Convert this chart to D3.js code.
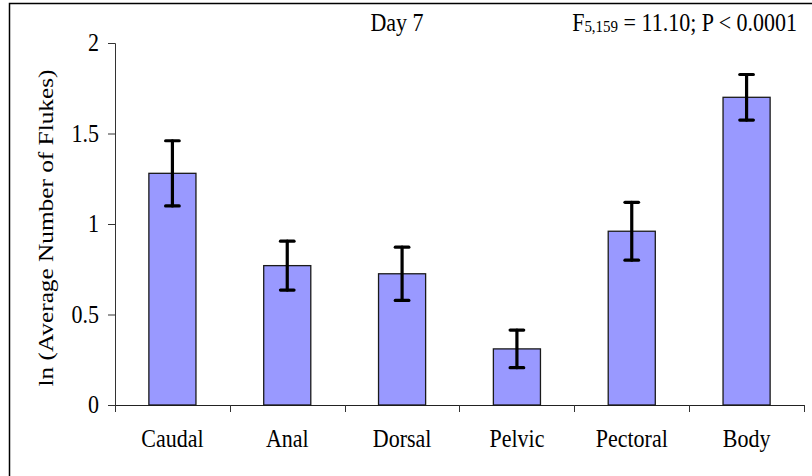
<!DOCTYPE html>
<html>
<head>
<meta charset="utf-8">
<script src="https://cdn.jsdelivr.net/npm/d3@7"></script>
<style>
  html, body { margin: 0; padding: 0; background: #fff; }
  svg { display: block; font-family: "Liberation Serif", "Times New Roman", serif; }
</style>
</head>
<body>
<svg id="chart" width="812" height="476"></svg>
<script>
// Mean ln(number of flukes) per body region on day 7, with error bar half-widths
const categories = ["Caudal", "Anal", "Dorsal", "Pelvic", "Pectoral", "Body"];
const means = [1.28, 0.77, 0.725, 0.31, 0.96, 1.70];
const errors = [0.18, 0.135, 0.147, 0.104, 0.16, 0.126];
const yTicks = [0, 0.5, 1, 1.5, 2];

const svg = d3.select("#chart");
const plotLeft = 115, plotRight = 804, plotTop = 43, plotBottom = 405;
const stretch = 1.15;   // glyphs are drawn slightly taller than wide

// outer frame
svg.append("rect")
  .attr("x", 9.5).attr("y", 3.5)
  .attr("width", 812).attr("height", 480)
  .attr("fill", "none").attr("stroke", "#000").attr("stroke-width", 1.5);

const x = d3.scaleBand().domain(categories).range([plotLeft, plotRight])
  .paddingInner(0.59).paddingOuter(0.295);
const y = d3.scaleLinear().domain([0, 2]).range([plotBottom, plotTop]);

// y axis
const yAxis = svg.append("g")
  .attr("transform", `translate(${plotLeft},0)`)
  .call(d3.axisLeft(y).tickValues(yTicks).tickSize(7).tickPadding(9).tickFormat(d3.format("~g")));
yAxis.selectAll("text")
  .attr("font-size", 22).attr("font-family", "Liberation Serif").attr("fill", "#000")
  .attr("dy", "0.3em")
  .attr("transform", `scale(1,${stretch})`);
yAxis.selectAll("line, path").attr("stroke", "#333");

// x axis: labels centred on bars, ticks at category boundaries
const step = x.step();
const xAxis = svg.append("g")
  .attr("transform", `translate(0,${plotBottom})`)
  .call(d3.axisBottom(x).tickSize(0).tickPadding(0));
xAxis.select("path").remove();
xAxis.selectAll("text")
  .attr("y", 42 / stretch).attr("dy", 0)
  .attr("transform", `scale(1,${stretch})`)
  .attr("font-size", 22).attr("font-family", "Liberation Serif").attr("fill", "#000");
const edges = categories.map(c => x(c) + x.bandwidth() / 2 - step / 2)
  .concat([x(categories[categories.length - 1]) + x.bandwidth() / 2 + step / 2]);
svg.append("line")
  .attr("x1", plotLeft).attr("x2", plotRight)
  .attr("y1", plotBottom + 0.5).attr("y2", plotBottom + 0.5)
  .attr("stroke", "#222");
svg.append("g").selectAll("line").data(edges).join("line")
  .attr("x1", d => Math.round(d) + 0.5).attr("x2", d => Math.round(d) + 0.5)
  .attr("y1", plotBottom).attr("y2", plotBottom + 7)
  .attr("stroke", "#333");

// bars
const rows = categories.map((c, i) => ({ c, m: means[i], e: errors[i] }));
svg.append("g").selectAll("rect").data(rows).join("rect")
  .attr("x", d => x(d.c))
  .attr("y", d => y(d.m))
  .attr("width", x.bandwidth())
  .attr("height", d => y(0) - y(d.m))
  .attr("fill", "#9999FF")
  .attr("stroke", "#1a1a1a")
  .attr("stroke-width", 1.3);

// error bars
const capHalf = 6.8;
const eb = svg.append("g").attr("stroke", "#000").attr("stroke-width", 3.2).attr("stroke-linecap", "round");
rows.forEach(d => {
  const cx = x(d.c) + x.bandwidth() / 2;
  eb.append("line").attr("x1", cx).attr("x2", cx).attr("y1", y(d.m + d.e)).attr("y2", y(d.m - d.e));
  eb.append("line").attr("x1", cx - capHalf).attr("x2", cx + capHalf).attr("y1", y(d.m + d.e)).attr("y2", y(d.m + d.e));
  eb.append("line").attr("x1", cx - capHalf).attr("x2", cx + capHalf).attr("y1", y(d.m - d.e)).attr("y2", y(d.m - d.e));
});

// y axis title
svg.append("text")
  .attr("transform", `translate(53,228) scale(1,${stretch}) rotate(-90)`)
  .attr("text-anchor", "middle")
  .attr("font-size", 22)
  .text("ln (Average Number of Flukes)");

// panel title
svg.append("text")
  .attr("transform", `translate(397,31) scale(1,${stretch})`)
  .attr("text-anchor", "middle")
  .attr("font-size", 22)
  .text("Day 7");

// test statistic
const stat = svg.append("text")
  .attr("transform", `translate(797,31) scale(1,${stretch})`)
  .attr("text-anchor", "end")
  .attr("font-size", 22);
stat.append("tspan").text("F");
stat.append("tspan").attr("font-size", 15).attr("dy", 1).text("5,159");
stat.append("tspan").attr("dy", -1).text(" = 11.10; P < 0.0001");
</script>
</body>
</html>
